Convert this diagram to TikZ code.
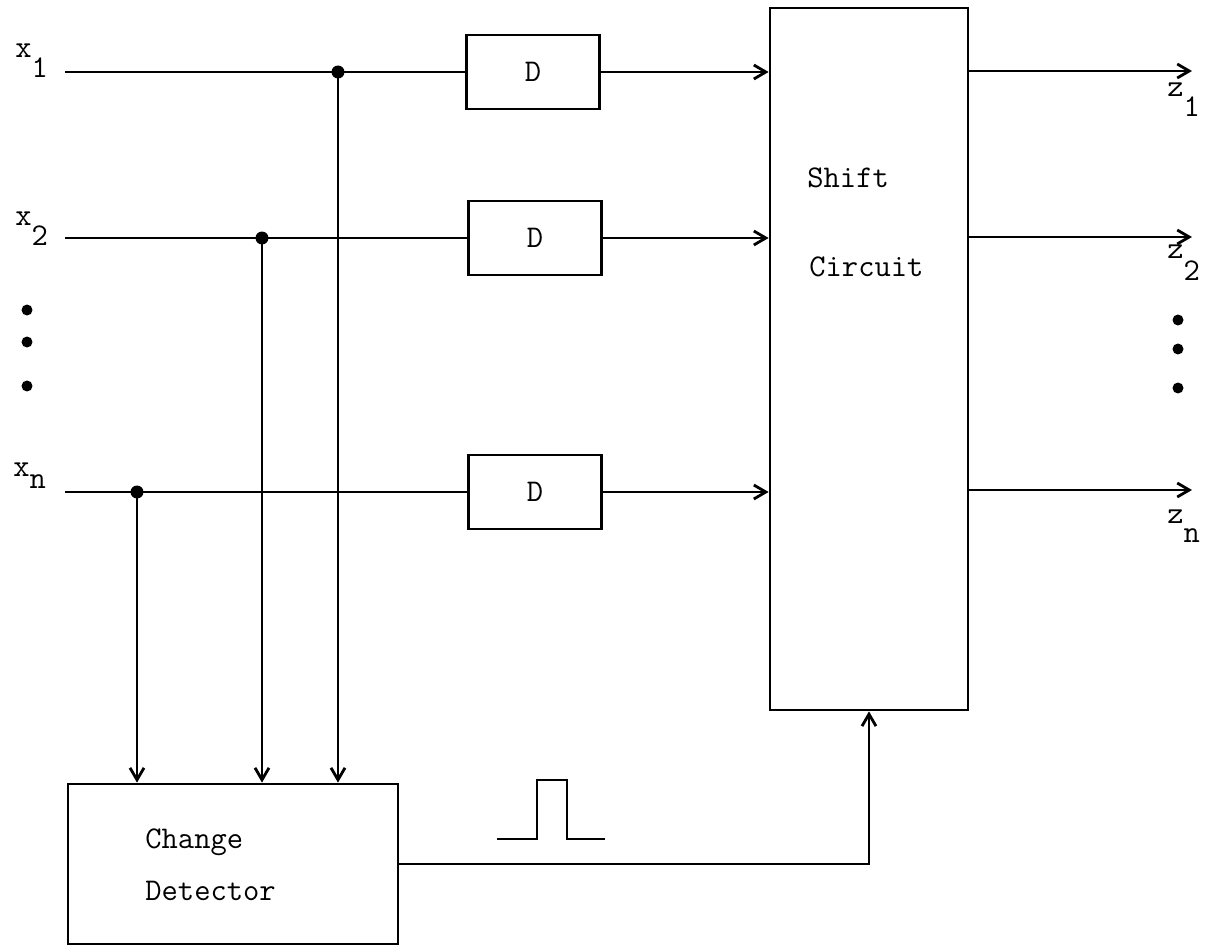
\documentclass[tikz,border=0pt]{standalone}
\usetikzlibrary{arrows.meta}
\begin{document}
\begin{tikzpicture}[x=0.02cm,y=-0.02cm,line width=1.6pt,>={Straight Barb[length=2.4mm,width=2.8mm]},
  every node/.style={font=\ttfamily\fontsize{18}{21}\selectfont},
  dbox/.style={draw,minimum width=2.66cm,minimum height=1.48cm,inner sep=0pt},
  dot/.style={circle,fill,inner sep=0pt,minimum size=2.6mm},
  lbl/.style={anchor=base west,inner sep=0pt}]
  \useasboundingbox (0,0) rectangle (1215,946);
  \coordinate (in1) at (65,72);
  \coordinate (in2) at (65,238);
  \coordinate (inn) at (65,492);
  \coordinate (z1) at (1192,71);
  \coordinate (z2) at (1192,237);
  \coordinate (zn) at (1192,490);
  \node[dbox] (d1) at (533,72) {D};
  \node[dbox] (d2) at (535,238) {D};
  \node[dbox] (dn) at (535,492) {D};
  \node[draw,minimum width=3.96cm,minimum height=14.04cm] (sc) at (869,359) {};
  \node[draw,minimum width=6.6cm,minimum height=3.2cm] (cd) at (233,864) {};
  \node[lbl] (shift) at (806,188) {Shift};
  \node[lbl] (circuit) at (808,276) {Circuit};
  \node[lbl] (change) at (144,848) {Change};
  \node[lbl] (detector) at (144,900) {Detector};
  \node[dot] (j1) at (338,72) {};
  \node[dot] (j2) at (262,238) {};
  \node[dot] (jn) at (137,492) {};
  \node[lbl] (lx1) at (14,58) {x\raisebox{-0.4cm}{1}};
  \node[lbl] (lx2) at (14,226) {x\raisebox{-0.4cm}{2}};
  \node[lbl] (lxn) at (12,476) {x\raisebox{-0.26cm}{n}};
  \node[lbl] (lz1) at (1166,97) {z\raisebox{-0.4cm}{1}};
  \node[lbl] (lz2) at (1166,258) {z\raisebox{-0.45cm}{2}};
  \node[lbl] (lzn) at (1166,523) {z\raisebox{-0.4cm}{n}};
  \foreach \y [count=\i] in {310,342,386}
    \node[dot,minimum size=2.2mm] (ldot\i) at (27,\y) {};
  \foreach \y [count=\i] in {320,349,388}
    \node[dot,minimum size=2.2mm] (rdot\i) at (1178,\y) {};
  \draw (in1) -- (d1);
  \draw (in2) -- (d2);
  \draw (inn) -- (dn);
  \draw[->] (d1) -- (d1 -| sc.west);
  \draw[->] (d2) -- (d2 -| sc.west);
  \draw[->] (dn) -- (dn -| sc.west);
  \draw[->] (z1 -| sc.east) -- (z1);
  \draw[->] (z2 -| sc.east) -- (z2);
  \draw[->] (zn -| sc.east) -- (zn);
  \draw[->] (j1.center) -- (j1 |- cd.north);
  \draw[->] (j2.center) -- (j2 |- cd.north);
  \draw[->] (jn.center) -- (jn |- cd.north);
  \draw[->] (cd.east) -| (sc.south);
  \draw (497,839) -- (537,839) -- (537,780) -- (567,780) -- (567,839) -- (605,839);
\end{tikzpicture}
\end{document}
